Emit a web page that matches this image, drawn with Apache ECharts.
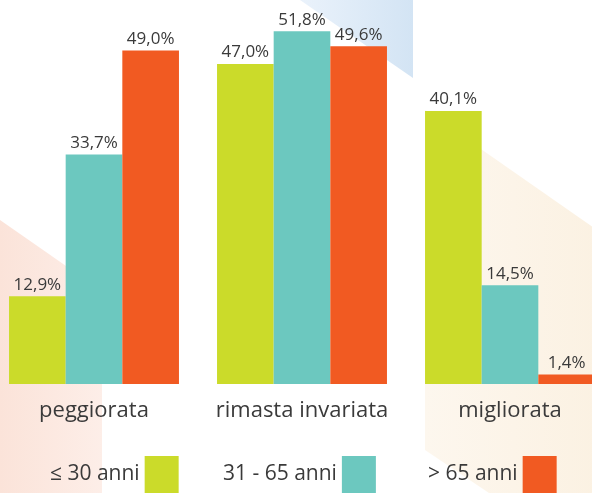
<!DOCTYPE html>
<html>
<head>
<meta charset="utf-8">
<script src="https://cdn.jsdelivr.net/npm/echarts@6/dist/echarts.min.js"></script>
<style>
  html, body { margin: 0; padding: 0; background: #fff; }
  #main { width: 592px; height: 493px; }
</style>
</head>
<body>
<div id="main"></div>
<script>
var categories = ['peggiorata', 'rimasta invariata', 'migliorata'];
var seriesNames = ['\u2264 30 anni', '31 - 65 anni', '> 65 anni'];
var young = [12.9, 47.0, 40.1];
var middle = [33.7, 51.8, 14.5];
var old = [49.0, 49.6, 1.4];
var colors = ['#cbdb2a', '#6cc8bf', '#f15a22'];

var font = '"Open Sans", Lato, sans-serif';
var myChart = echarts.init(document.getElementById('main'));

function makeSeries(name, data, color) {
    return {
        name: name,
        type: 'bar',
        data: data,
        barGap: '0%',
        barCategoryGap: '18.3%',
        itemStyle: { color: color },
        label: {
            show: true,
            position: 'top',
            distance: 3,
            color: '#3a3a3a',
            fontFamily: font,
            fontSize: 17,
            formatter: function (p) {
                return p.value.toFixed(1).replace('.', ',') + '%';
            }
        }
    };
}

function makeLegend(name, left) {
    return {
        data: [name],
        left: left,
        top: 456,
        padding: 0,
        align: 'right',
        icon: 'rect',
        itemWidth: 34,
        itemHeight: 37,
        selectedMode: false,
        textStyle: { color: '#3a3a3a', fontFamily: font, fontSize: 21 }
    };
}

var option = {
    animation: false,
    graphic: [
        {
            type: 'polygon', z: 0,
            shape: { points: [[0, 220], [102, 291], [102, 493], [0, 493]] },
            style: { fill: new echarts.graphic.LinearGradient(0, 0, 1, 0, [
                { offset: 0, color: '#fbe3d9' }, { offset: 1, color: '#fdeee8' }]) }
        },
        {
            type: 'polygon', z: 0,
            shape: { points: [[300, 0], [413, 0], [413, 78]] },
            style: { fill: new echarts.graphic.LinearGradient(0, 0, 1, 0, [
                { offset: 0, color: '#eaf2fb' }, { offset: 1, color: '#d3e4f4' }]) }
        },
        {
            type: 'polygon', z: 0,
            shape: { points: [[425, 110], [600, 232], [600, 493], [489, 493], [425, 450]] },
            style: { fill: new echarts.graphic.LinearGradient(0, 0, 1, 0, [
                { offset: 0, color: '#fdf7ee' }, { offset: 1, color: '#fbf1e2' }]) }
        }
    ],
    legend: [
        makeLegend(seriesNames[0], 50),
        makeLegend(seriesNames[1], 223),
        makeLegend(seriesNames[2], 428)
    ],
    grid: {
        left: -10,
        right: -22,
        top: 0,
        bottom: 109,
        containLabel: false,
        outerBoundsMode: 'none'
    },
    xAxis: {
        type: 'category',
        data: categories,
        axisLine: { show: false },
        axisTick: { show: false },
        axisLabel: {
            interval: 0,
            hideOverlap: false,
            margin: 16,
            color: '#3a3a3a',
            fontFamily: font,
            fontSize: 22
        }
    },
    yAxis: {
        type: 'value',
        min: 0,
        max: 56.4,
        show: false,
        splitLine: { show: false }
    },
    series: [
        makeSeries(seriesNames[0], young, colors[0]),
        makeSeries(seriesNames[1], middle, colors[1]),
        makeSeries(seriesNames[2], old, colors[2])
    ]
};
myChart.setOption(option);
</script>
</body>
</html>
